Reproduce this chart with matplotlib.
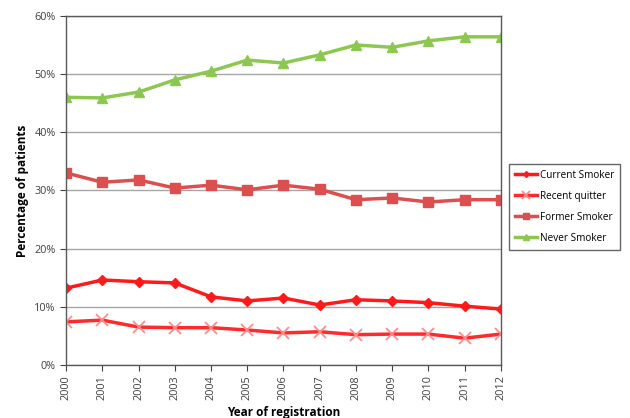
import numpy as np
import matplotlib.pyplot as plt
from matplotlib.ticker import PercentFormatter

years = list(range(2000, 2013))
current_smoker = [13.2, 14.6, 14.3, 14.1, 11.7, 11.0, 11.5, 10.3, 11.2, 11.0, 10.7, 10.1, 9.6]
recent_quitter = [7.4, 7.7, 6.5, 6.4, 6.4, 6.0, 5.5, 5.7, 5.2, 5.3, 5.3, 4.6, 5.3]
former_smoker = [33.0, 31.4, 31.8, 30.4, 30.9, 30.1, 30.9, 30.2, 28.4, 28.7, 28.0, 28.4, 28.4]
never_smoker = [46.0, 45.9, 46.9, 49.0, 50.5, 52.4, 51.9, 53.3, 55.0, 54.6, 55.7, 56.4, 56.4]

plt.rcParams['font.family'] = ['Open Sans', 'DejaVu Sans']

fig = plt.figure(figsize=(6.3, 4.18), dpi=100)
ax = fig.add_axes([0.105, 0.127, 0.69, 0.835])

ax.plot(years, current_smoker, color='#ff1a1a', lw=2.5, marker='D', ms=5,
        label='Current Smoker')
ax.plot(years, recent_quitter, color='#ff2a2a', lw=2.5, marker='x', ms=9,
        mec='#ff8c8c', mew=1.3, label='Recent quitter')
ax.plot(years, former_smoker, color='#dd4f4f', lw=2.5, marker='s', ms=7,
        label='Former Smoker')
ax.plot(years, never_smoker, color='#8cc850', lw=2.5, marker='^', ms=7,
        label='Never Smoker')

ax.set_xlim(2000, 2012)
ax.set_ylim(0, 60)
ax.set_yticks(np.arange(0, 61, 10))
ax.yaxis.set_major_formatter(PercentFormatter(decimals=0))
ax.set_xticks(years)
ax.set_xticklabels([str(y) for y in years], rotation=90)
ax.grid(axis='y', color='#a6a6a6', lw=1)
ax.set_axisbelow(True)
for s in ax.spines.values():
    s.set_color('#595959')
    s.set_linewidth(1)
ax.tick_params(labelsize=7.8, colors='#404040', length=4, direction='out')

ax.set_xlabel('Year of registration', fontsize=8.5, fontweight='bold', labelpad=4)
ax.set_ylabel('Percentage of patients', fontsize=8.5, fontweight='bold', labelpad=4)

leg = fig.legend(loc='upper left', bbox_to_anchor=(0.808, 0.608), fontsize=7.2,
                 frameon=True, fancybox=False, edgecolor='#404040',
                 borderpad=0.6, labelspacing=1.0, handlelength=2.2,
                 handletextpad=0.3, borderaxespad=0, markerscale=0.6)
leg.get_frame().set_linewidth(1)

fig.savefig('out.png', dpi=100)
